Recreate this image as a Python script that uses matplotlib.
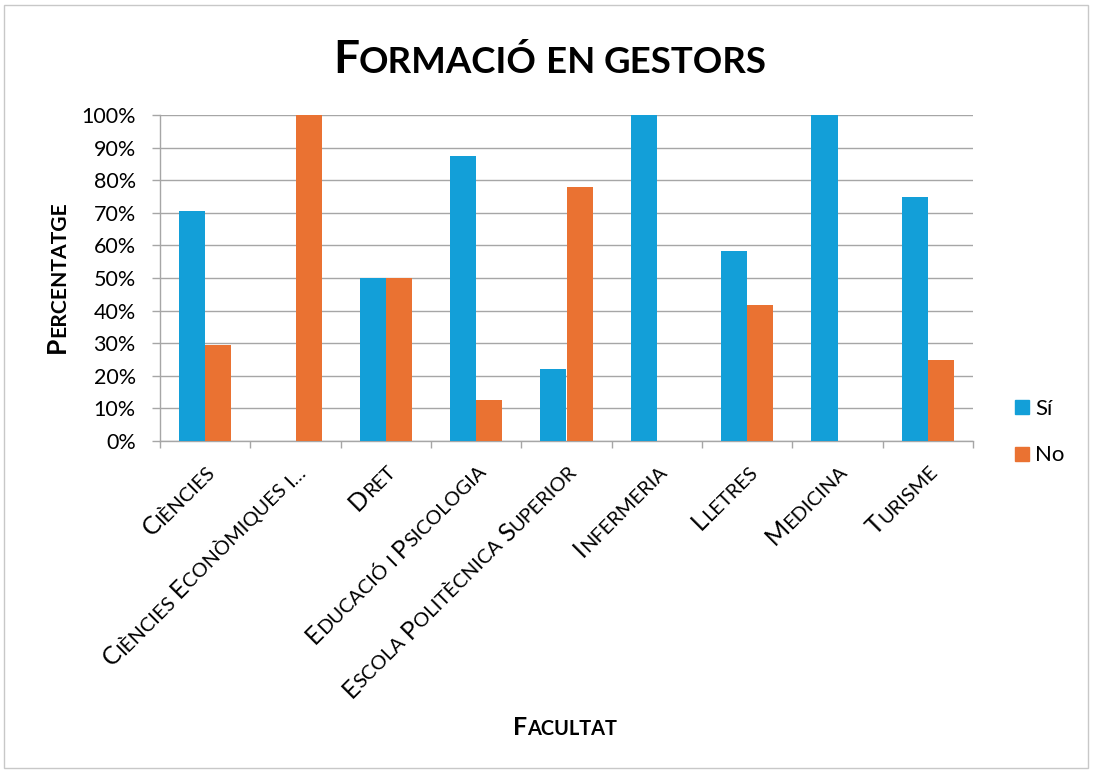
import numpy as np
import matplotlib
matplotlib.use('Agg')
import matplotlib.pyplot as plt
from matplotlib.font_manager import FontProperties
from matplotlib.transforms import offset_copy
from matplotlib.lines import Line2D
from matplotlib.patches import Rectangle

# ── data ──────────────────────────────────────────────────────────
faculties = ['Ciències', 'Ciències Econòmiques i…', 'Dret',
             'Educació i Psicologia', 'Escola Politècnica Superior',
             'Infermeria', 'Lletres', 'Medicina', 'Turisme']
si = [70.6, 0, 50, 87.5, 22.2, 100, 58.3, 100, 75]
no = [29.4, 100, 50, 12.5, 77.8, 0, 41.7, 0, 25]
series_names = ['Sí', 'No']
yticks = list(range(0, 101, 10))

FONT = 'Lato'
BLUE = '#139fd8'
ORANGE = '#ea7232'
GREY = '#a6a6a6'

W, H = 1093, 772
fig = plt.figure(figsize=(W / 100, H / 100), dpi=100)
ax = fig.add_axes([160 / W, 1 - 441 / H, 813 / W, 326 / H])
renderer = fig.canvas.get_renderer()


# ── small caps text made of pieces ────────────────────────────────
def smallcaps(x, y, s, size, trans, rot=0, align='left', weight='normal',
              off=(0, 0), ratio=0.8):
    big = FontProperties(family=FONT, size=size, weight=weight)
    sml = FontProperties(family=FONT, size=size * ratio, weight=weight)

    def px(t, fp):
        return renderer.get_text_width_height_descent(t, fp, ismath=False)[0]

    gap = px('n n', sml) - px('nn', sml)
    pieces, pen = [], 0.0
    for k, word in enumerate(s.split(' ')):
        if k:
            pen += gap
        runs, state = [], False
        for ch in word:
            if ch.isalpha():
                state = ch.islower()
            if runs and runs[-1][1] == state:
                runs[-1][0] += ch.upper()
            else:
                runs.append([ch.upper(), state])
        for txt, small in runs:
            fp = sml if small else big
            pieces.append((txt, fp, pen))
            pen += px(txt + 'n', fp) - px('n', fp)
    start = {'left': 0, 'center': -pen / 2, 'right': -pen}[align]
    c, sn = np.cos(np.radians(rot)), np.sin(np.radians(rot))
    for txt, fp, p in pieces:
        d = start + p
        tr = offset_copy(trans, fig=fig, x=off[0] + d * c, y=off[1] + d * sn,
                         units='dots')
        fig.text(x, y, txt, transform=tr, fontproperties=fp, rotation=rot,
                 rotation_mode='anchor', ha='left', va='baseline')


# ── bars ──────────────────────────────────────────────────────────
x = np.arange(len(faculties))
bw = 0.288
ax.bar(x - bw / 2, si, bw, color=BLUE, zorder=3)
ax.bar(x + bw / 2, no, bw, color=ORANGE, zorder=3)

ax.set_xlim(-0.5, len(faculties) - 0.5)
ax.set_ylim(0, 100)
ax.set_yticks(yticks)
ax.set_yticklabels([f'{v}%' for v in yticks], fontfamily=FONT, fontsize=15.5)
ax.set_xticks(np.arange(-0.5, len(faculties)))
ax.set_xticklabels([])
ax.tick_params(axis='y', length=6, width=1, color=GREY, pad=11.5)
ax.tick_params(axis='x', length=5, width=1, color=GREY)
ax.grid(axis='y', color=GREY, linewidth=1, zorder=0)
ax.set_axisbelow(True)
for side in ['top', 'right']:
    ax.spines[side].set_visible(False)
for side in ['left', 'bottom']:
    ax.spines[side].set_color(GREY)
    ax.spines[side].set_linewidth(1)

# category labels (rotated small caps)
for i, name in enumerate(faculties):
    smallcaps(i, 0, name, 18, ax.get_xaxis_transform(), rot=45,
              align='right', off=(11, -32))

# titles
smallcaps(550 / W, 1 - 73 / H, 'Formació en gestors', 33, fig.transFigure,
          align='center', weight='bold')
smallcaps(565 / W, 1 - 735 / H, 'Facultat', 18, fig.transFigure,
          align='center', weight='bold')
smallcaps(65 / W, 1 - 277 / H, 'Percentatge', 19, fig.transFigure, rot=90,
          align='center', weight='bold')

# legend
handles = [Line2D([], [], marker='s', linestyle='none', markersize=9.5,
                  markerfacecolor=c, markeredgecolor=c) for c in (BLUE, ORANGE)]
ax.legend(handles, series_names, loc='center left',
          bbox_to_anchor=(1014 / W, 1 - 432 / H), bbox_transform=fig.transFigure,
          frameon=False, borderpad=0, borderaxespad=0, handlelength=0.7,
          handletextpad=0.25, labelspacing=1.2,
          prop=FontProperties(family=FONT, size=16))

# outer border
fig.patches.append(Rectangle((4 / W, 4 / H), 1 - 9 / W, 1 - 9 / H,
                             transform=fig.transFigure, fill=False,
                             edgecolor='#c8c8c8', linewidth=1))

fig.savefig('out.png', dpi=100)
